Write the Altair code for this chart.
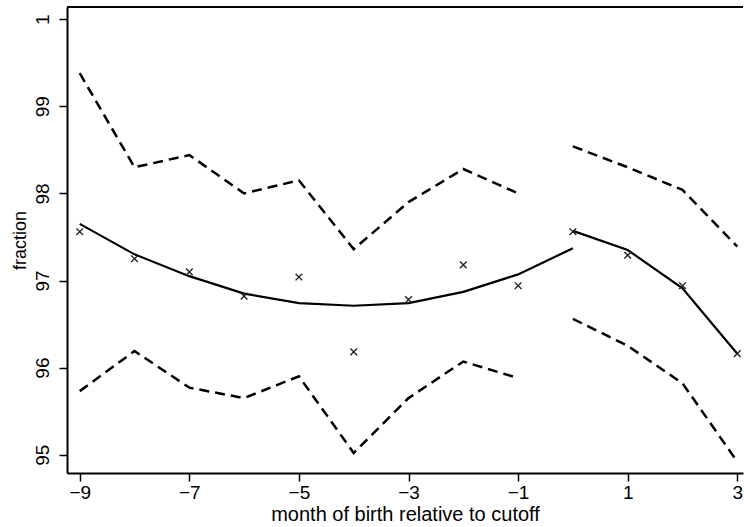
import altair as alt
import pandas as pd

# ---- data ----
months = [-9, -8, -7, -6, -5, -4, -3, -2, -1, 0, 1, 2, 3]
observed = [97.56, 97.25, 97.10, 96.82, 97.04, 96.18, 96.78, 97.18, 96.94, 97.56, 97.29, 96.94, 96.16]

left_months = [-9, -8, -7, -6, -5, -4, -3, -2, -1, 0]
left_fit = [97.65, 97.30, 97.05, 96.85, 96.74, 96.71, 96.74, 96.87, 97.07, 97.37]

ci_left_months = [-9, -8, -7, -6, -5, -4, -3, -2, -1]
ci_left_upper = [99.38, 98.30, 98.44, 98.00, 98.15, 97.36, 97.90, 98.28, 98.00]
ci_left_lower = [95.73, 96.19, 95.77, 95.65, 95.90, 95.02, 95.65, 96.07, 95.88]

right_months = [0, 1, 2, 3]
right_fit = [97.57, 97.35, 96.91, 96.16]
ci_right_upper = [98.54, 98.30, 98.04, 97.39]
ci_right_lower = [96.56, 96.25, 95.82, 94.92]

x_ticks = [-9, -7, -5, -3, -1, 1, 3]
y_ticks = [95, 96, 97, 98, 99, 100]

x_domain = [-9.232, 3.104]
y_domain = [94.79, 100.14]

FONT = "Liberation Sans"

# ---- tables ----
fit_df = pd.DataFrame(
    {"month": left_months + right_months,
     "value": left_fit + right_fit,
     "seg": ["left"] * len(left_months) + ["right"] * len(right_months)}
)
ci_df = pd.DataFrame(
    {"month": ci_left_months + ci_left_months + right_months + right_months,
     "value": ci_left_upper + ci_left_lower + ci_right_upper + ci_right_lower,
     "seg": (["lu"] * len(ci_left_months) + ["ll"] * len(ci_left_months)
             + ["ru"] * len(right_months) + ["rl"] * len(right_months))}
)
obs_df = pd.DataFrame({"month": months, "value": observed})

xs = alt.Scale(domain=x_domain, nice=False, zero=False)
ys = alt.Scale(domain=y_domain, nice=False, zero=False)

x_axis = alt.Axis(
    values=x_ticks, title="month of birth relative to cutoff", grid=False, format="d",
    tickSize=8, tickWidth=1.5, domainWidth=2, domainColor="black", tickColor="black",
    labelFont=FONT, labelFontSize=19, labelColor="black", labelPadding=2,
    titleFont=FONT, titleFontSize=20, titleFontWeight="normal", titleColor="black",
    titlePadding=2, labelFlush=False,
)
y_axis = alt.Axis(
    values=y_ticks, title="fraction", grid=False, format="d",
    tickSize=8, tickWidth=1.5, domainWidth=2, domainColor="black", tickColor="black",
    labelFont=FONT, labelFontSize=19, labelColor="black", labelPadding=7,
    labelAngle=270, labelAlign="center", labelBaseline="bottom",
    labelExpr="datum.value == 100 ? '1' : datum.label",
    titleFont=FONT, titleFontSize=18, titleFontWeight="normal", titleColor="black",
    titlePadding=4, labelFlush=False,
)

fit = alt.Chart(fit_df).mark_line(color="black", strokeWidth=2.2).encode(
    x=alt.X("month:Q", scale=xs, axis=x_axis),
    y=alt.Y("value:Q", scale=ys, axis=y_axis),
    detail="seg:N",
)
ci = alt.Chart(ci_df).mark_line(color="black", strokeWidth=2.5, strokeDash=[10, 6]).encode(
    x=alt.X("month:Q", scale=xs),
    y=alt.Y("value:Q", scale=ys),
    detail="seg:N",
)
pts = alt.Chart(obs_df).mark_point(
    shape="M-1,-1L1,1M-1,1L1,-1", filled=False, color="#222222", strokeWidth=1.4, size=45,
    opacity=1,
).encode(
    x=alt.X("month:Q", scale=xs),
    y=alt.Y("value:Q", scale=ys),
)
top = alt.Chart(pd.DataFrame({"v": [y_domain[1]]})).mark_rule(color="black", strokeWidth=2).encode(
    y=alt.Y("v:Q", scale=ys)
)

chart = (
    alt.layer(ci, fit, pts, top)
    .properties(
        width=676, height=466,
        autosize=alt.AutoSizeParams(type="none"),
        padding={"left": 67, "top": 7, "right": 1, "bottom": 54},
        background="white",
    )
    .configure_view(stroke=None)
)

chart.save("out.html", embed_options={"renderer": "svg", "actions": False})
